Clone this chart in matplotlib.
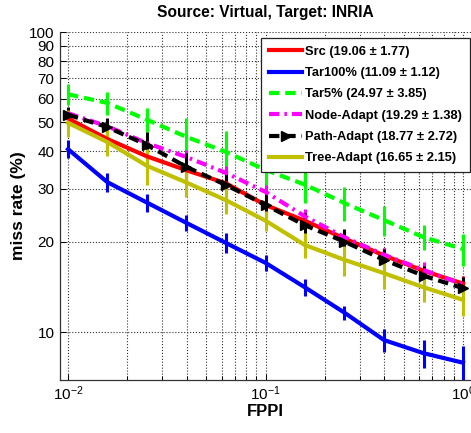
import numpy as np
import matplotlib
matplotlib.use("Agg")
import matplotlib.pyplot as plt
from matplotlib.ticker import FixedLocator, NullLocator, LogLocator, LogFormatterSciNotation, NullFormatter

FONT = "Liberation Sans"
plt.rcParams["font.family"] = [FONT, "DejaVu Sans"]
plt.rcParams["mathtext.fontset"] = "custom"
plt.rcParams["mathtext.rm"] = FONT
plt.rcParams["mathtext.it"] = FONT
plt.rcParams["mathtext.default"] = "regular"

# ---- data ----
fppi = [0.01, 0.0158, 0.0251, 0.0398, 0.0631, 0.1, 0.158, 0.251, 0.398, 0.631, 1.0]

src = [51.5, 44.0, 38.5, 34.6, 31.3, 26.5, 23.5, 20.5, 18.0, 16.0, 14.5]
src_err = [2.5, 2.0, 2.0, 1.8, 1.6, 1.5, 1.3, 1.2, 1.0, 1.0, 0.9]
tar100 = [40.7, 31.6, 27.0, 23.1, 19.8, 17.0, 14.1, 11.6, 9.4, 8.5, 7.9]
tar100_err = [2.8, 2.4, 1.8, 1.4, 1.5, 1.0, 0.9, 0.6, 0.8, 0.9, 1.1]
tar5 = [62.0, 58.0, 51.0, 44.7, 39.8, 34.7, 31.0, 26.9, 23.6, 20.7, 18.9]
tar5_err = [5.0, 5.0, 4.6, 7.0, 7.0, 5.7, 4.0, 3.5, 2.7, 2.0, 2.3]
node = [53.6, 48.5, 42.6, 38.3, 33.9, 29.3, 24.3, 20.7, 18.1, 16.1, 14.4]
node_err = [2.0, 2.0, 2.0, 2.0, 1.8, 1.6, 1.5, 1.2, 1.0, 1.0, 0.9]
path = [53.0, 48.2, 42.0, 35.5, 30.9, 26.5, 22.7, 20.0, 17.4, 15.4, 14.0]
path_err = [3.2, 3.5, 4.5, 4.0, 2.7, 2.4, 2.3, 2.0, 1.5, 1.2, 1.2]
tree = [49.8, 43.0, 35.8, 31.5, 27.5, 23.5, 19.5, 17.4, 15.7, 14.1, 12.8]
tree_err = [5.0, 4.5, 5.0, 3.3, 2.8, 1.8, 1.8, 2.0, 1.8, 1.5, 1.5]

labels = ["Src (19.06 \u00b1 1.77)", "Tar100% (11.09 \u00b1 1.12)", "Tar5% (24.97 \u00b1 3.85)",
          "Node-Adapt (19.29 \u00b1 1.38)", "Path-Adapt (18.77 \u00b1 2.72)", "Tree-Adapt (16.65 \u00b1 2.15)"]

yticks = [10, 20, 30, 40, 50, 60, 70, 80, 90, 100]

series = [
    (src, src_err, "#ff0000", "-", None),
    (tar100, tar100_err, "#0000ff", "-", None),
    (tar5, tar5_err, "#00ff00", "--", None),
    (node, node_err, "#ff00ff", "-.", None),
    (path, path_err, "#000000", "--", ">"),
    (tree, tree_err, "#c0c000", "-", None),
]

W, H = 471, 433
fig = plt.figure(figsize=(W / 100, H / 100), dpi=100)
ax = fig.add_axes([60 / W, (H - 380) / H, (471 - 60) / W, (380 - 32) / H])
ax.set_xscale("log")
ax.set_yscale("log")

for (vals, err, col, ls, mk), lab in zip(series, labels):
    ax.errorbar(fppi, vals, yerr=err, fmt="none", ecolor=col, elinewidth=2.2, capsize=0, zorder=2)
    kw = {}
    if ls == "--":
        kw["dashes"] = (2.5, 1.4)
    elif ls == "-.":
        kw["dashes"] = (2.5, 1.2, 0.6, 1.2)
    if mk:
        kw.update(marker=mk, markersize=6.5, markeredgecolor=col, markerfacecolor=col)
    ax.plot(fppi, vals, color=col, lw=3, linestyle=ls if ls == "-" else "--", label=lab, zorder=3, **kw)

ax.set_xlim(10 ** (-2 - 8 / 197.5), 10 ** (8 / 197.5))
ax.set_ylim(10 ** 0.84, 100)

ax.xaxis.set_major_locator(FixedLocator([0.01, 0.1, 1.0]))
ax.xaxis.set_major_formatter(LogFormatterSciNotation())
ax.xaxis.set_minor_locator(LogLocator(base=10, subs=np.arange(2, 10), numticks=20))
ax.xaxis.set_minor_formatter(NullFormatter())
ax.yaxis.set_major_locator(FixedLocator(yticks))
ax.set_yticklabels([str(t) for t in yticks])
ax.yaxis.set_minor_locator(NullLocator())

ax.tick_params(which="both", direction="in", labelsize=11, width=0.7)
ax.tick_params(axis="y", pad=4)
ax.tick_params(axis="x", pad=3)
ax.tick_params(which="major", length=4)
ax.tick_params(which="minor", length=3)
ax.grid(True, which="major", linestyle=":", color="#333333", lw=0.8)
ax.grid(True, which="minor", axis="x", linestyle=":", color="#333333", lw=0.8)
for s in ["top", "right"]:
    ax.spines[s].set_visible(False)
for s in ["left", "bottom"]:
    ax.spines[s].set_linewidth(0.9)
    ax.spines[s].set_color("#333333")

fig.text(265 / W, 1 - 13 / H, "Source: Virtual, Target: INRIA", ha="center", va="center",
         fontsize=11.2, fontweight="bold")
fig.text(265 / W, 1 - 412 / H, "FPPI", ha="center", va="center", fontsize=12, fontweight="bold")
fig.text(19 / W, 1 - 206 / H, "miss rate (%)", ha="center", va="center", rotation=90,
         fontsize=12.5, fontweight="bold")

leg = ax.legend(loc="upper right", bbox_to_anchor=(470 / W, 1 - 38 / H), bbox_transform=fig.transFigure,
                borderaxespad=0, fancybox=False, framealpha=1, edgecolor="#222222",
                prop={"weight": "bold", "size": 9.3}, handlelength=2.55, handletextpad=0.25,
                labelspacing=0.72, borderpad=0.6)
leg.get_frame().set_linewidth(0.9)
leg.set_zorder(10)

fig.savefig("out.png", dpi=100)
